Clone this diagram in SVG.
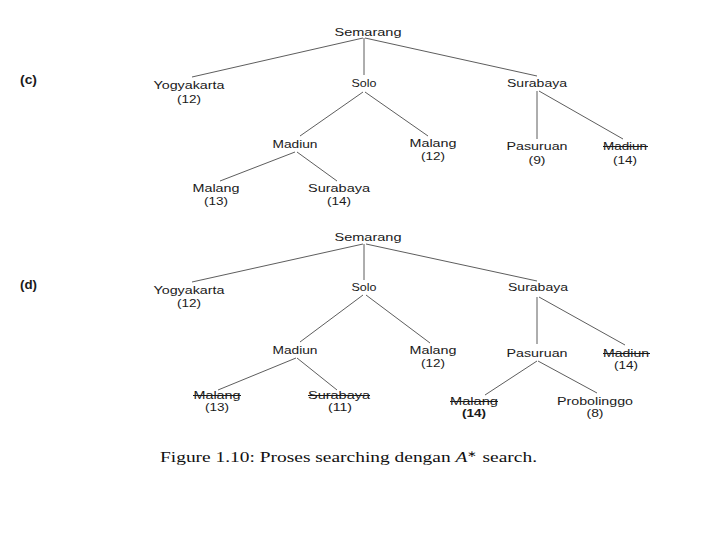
<svg xmlns="http://www.w3.org/2000/svg" width="720" height="540" viewBox="0 0 720 540">
<style>
  .n { font-family: "Liberation Sans", Arial, sans-serif; font-size: 11.5px; fill: #1a1a1a; text-anchor: middle; }
  .lbl { font-family: "Liberation Sans", Arial, sans-serif; font-size: 12.5px; font-weight: bold; fill: #1a1a1a; }
  .e { stroke: #333; stroke-width: 0.8; fill: none; }
  .s { stroke: #1a1a1a; stroke-width: 1; }
  .cap { font-family: "Liberation Serif", "Times New Roman", serif; font-size: 15px; fill: #111; }
</style>
<rect width="720" height="540" fill="#fff"/>
<text class="lbl" x="20" y="84" textLength="17" lengthAdjust="spacingAndGlyphs">(c)</text>
<text class="lbl" x="20" y="289" textLength="17" lengthAdjust="spacingAndGlyphs">(d)</text>
<g id="edges">
  <line class="e" x1="363" y1="38" x2="192" y2="77"/>
  <line class="e" x1="364" y1="38" x2="364" y2="75"/>
  <line class="e" x1="365" y1="38" x2="537" y2="76"/>
  <line class="e" x1="363" y1="92" x2="300" y2="136"/>
  <line class="e" x1="365" y1="92" x2="428" y2="136"/>
  <line class="e" x1="537" y1="91" x2="537" y2="139"/>
  <line class="e" x1="539" y1="91" x2="623" y2="139"/>
  <line class="e" x1="295" y1="152" x2="220" y2="181"/>
  <line class="e" x1="297" y1="152" x2="337" y2="181"/>

  <line class="e" x1="363" y1="244" x2="192" y2="282"/>
  <line class="e" x1="364" y1="244" x2="364" y2="280"/>
  <line class="e" x1="366" y1="244" x2="537" y2="281"/>
  <line class="e" x1="363" y1="295" x2="300" y2="342"/>
  <line class="e" x1="366" y1="295" x2="430" y2="343"/>
  <line class="e" x1="537" y1="297" x2="537" y2="344"/>
  <line class="e" x1="539" y1="297" x2="625" y2="345"/>
  <line class="e" x1="296" y1="358" x2="218" y2="390"/>
  <line class="e" x1="297" y1="358" x2="337" y2="390"/>
  <line class="e" x1="537" y1="361" x2="485" y2="395"/>
  <line class="e" x1="538" y1="361" x2="597" y2="393"/>
</g>
<!-- panel c -->
<g id="c-semarang"><text class="n" x="368" y="36" textLength="67" lengthAdjust="spacingAndGlyphs">Semarang</text></g>
<g id="c-yogyakarta"><text class="n" x="189" y="89" textLength="71" lengthAdjust="spacingAndGlyphs">Yogyakarta</text><text class="n" x="189" y="103" textLength="24" lengthAdjust="spacingAndGlyphs">(12)</text></g>
<g id="c-solo"><text class="n" x="364" y="87" textLength="25" lengthAdjust="spacingAndGlyphs">Solo</text></g>
<g id="c-surabaya"><text class="n" x="537" y="87" textLength="60" lengthAdjust="spacingAndGlyphs">Surabaya</text></g>
<g id="c-madiun"><text class="n" x="295" y="148" textLength="45" lengthAdjust="spacingAndGlyphs">Madiun</text></g>
<g id="c-malang12"><text class="n" x="433" y="147" textLength="47" lengthAdjust="spacingAndGlyphs">Malang</text><text class="n" x="433" y="160" textLength="24" lengthAdjust="spacingAndGlyphs">(12)</text></g>
<g id="c-pasuruan"><text class="n" x="537" y="150" textLength="61" lengthAdjust="spacingAndGlyphs">Pasuruan</text><text class="n" x="537" y="164" textLength="17" lengthAdjust="spacingAndGlyphs">(9)</text></g>
<g id="c-madiun14"><text class="n" x="625" y="150" textLength="44" lengthAdjust="spacingAndGlyphs">Madiun</text><line class="s" x1="603" y1="146.5" x2="648" y2="146.5"/><text class="n" x="625" y="164" textLength="24" lengthAdjust="spacingAndGlyphs">(14)</text></g>
<g id="c-malang13"><text class="n" x="216" y="192" textLength="47" lengthAdjust="spacingAndGlyphs">Malang</text><text class="n" x="216" y="205" textLength="24" lengthAdjust="spacingAndGlyphs">(13)</text></g>
<g id="c-surabaya14"><text class="n" x="339" y="192" textLength="62" lengthAdjust="spacingAndGlyphs">Surabaya</text><text class="n" x="339" y="205" textLength="24" lengthAdjust="spacingAndGlyphs">(14)</text></g>
<!-- panel d -->
<g id="d-semarang"><text class="n" x="368" y="241" textLength="67" lengthAdjust="spacingAndGlyphs">Semarang</text></g>
<g id="d-yogyakarta"><text class="n" x="189" y="294" textLength="71" lengthAdjust="spacingAndGlyphs">Yogyakarta</text><text class="n" x="189" y="307" textLength="24" lengthAdjust="spacingAndGlyphs">(12)</text></g>
<g id="d-solo"><text class="n" x="364" y="291" textLength="25" lengthAdjust="spacingAndGlyphs">Solo</text></g>
<g id="d-surabaya"><text class="n" x="538" y="291" textLength="60" lengthAdjust="spacingAndGlyphs">Surabaya</text></g>
<g id="d-madiun"><text class="n" x="295" y="354" textLength="45" lengthAdjust="spacingAndGlyphs">Madiun</text></g>
<g id="d-malang12"><text class="n" x="433" y="354" textLength="47" lengthAdjust="spacingAndGlyphs">Malang</text><text class="n" x="433" y="367" textLength="24" lengthAdjust="spacingAndGlyphs">(12)</text></g>
<g id="d-pasuruan"><text class="n" x="537" y="357" textLength="61" lengthAdjust="spacingAndGlyphs">Pasuruan</text></g>
<g id="d-madiun14"><text class="n" x="626" y="357" textLength="46" lengthAdjust="spacingAndGlyphs">Madiun</text><line class="s" x1="603" y1="353.5" x2="650" y2="353.5"/><text class="n" x="626" y="369" textLength="24" lengthAdjust="spacingAndGlyphs">(14)</text></g>
<g id="d-malang13"><text class="n" x="217" y="399" textLength="47" lengthAdjust="spacingAndGlyphs">Malang</text><line class="s" x1="193" y1="395.5" x2="241" y2="395.5"/><text class="n" x="217" y="411" textLength="24" lengthAdjust="spacingAndGlyphs">(13)</text></g>
<g id="d-surabaya11"><text class="n" x="339" y="399" textLength="62" lengthAdjust="spacingAndGlyphs">Surabaya</text><line class="s" x1="308" y1="395.5" x2="370" y2="395.5"/><text class="n" x="340" y="411" textLength="24" lengthAdjust="spacingAndGlyphs">(11)</text></g>
<g id="d-malang14"><text class="n" x="474" y="405" textLength="48" lengthAdjust="spacingAndGlyphs">Malang</text><line class="s" x1="450" y1="401.5" x2="498" y2="401.5"/><text class="n" x="474" y="417" textLength="24" lengthAdjust="spacingAndGlyphs" font-weight="bold">(14)</text></g>
<g id="d-probolinggo"><text class="n" x="595" y="405" textLength="76" lengthAdjust="spacingAndGlyphs">Probolinggo</text><text class="n" x="595" y="417" textLength="17" lengthAdjust="spacingAndGlyphs">(8)</text></g>
<text class="cap" x="160" y="462" textLength="377" lengthAdjust="spacingAndGlyphs">Figure 1.10: Proses searching dengan <tspan font-style="italic">A</tspan><tspan font-size="9" dy="-5">∗</tspan><tspan dy="5"> search.</tspan></text>
</svg>
